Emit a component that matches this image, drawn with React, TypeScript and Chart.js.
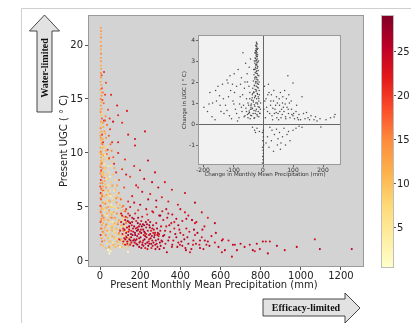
import React, { useEffect, useRef } from 'react';
import { Chart, registerables } from 'chart.js';
Chart.register(...registerables);

// ---------- data ----------
const X_TICKS = [0, 200, 400, 600, 800, 1000, 1200];
const Y_TICKS = [0, 5, 10, 15, 20];
const CB_TICKS = [5, 10, 15, 20, 25];
const INSET_X_TICKS = [-200, -100, 0, 100, 200];
const INSET_Y_TICKS = [-1, 0, 1, 2, 3, 4];
const C_MIN = 0.45;
const C_MAX = 29.2;

// [precip (mm), UGC (°C), colour value]
const columnPts = [
  [4,21.6,13],[5,21.3,14],[4,21.0,12],[5,20.7,15],[4,20.3,13],[5,19.9,14],[4,19.6,12],[5,19.2,15],[4,18.8,13],[5,18.5,14],
  [4,18.1,12],[6,17.8,13],[4,17.4,15],[5,17.0,14],[3,16.6,12],[6,16.3,13],[4,15.9,15],[5,15.6,11],[7,15.3,14],[3,15.0,16],
  [6,14.7,12],[4,14.4,14],[8,14.1,13],[3,13.8,15],[5,13.5,10],[9,13.2,18],[4,12.9,13],[6,12.6,9],[3,12.3,15],[7,12.0,12],
  [10,11.7,20],[4,11.4,14],[6,11.1,8],[12,10.8,16],[3,10.5,13],[8,10.2,10],[5,9.9,15],[11,9.6,7],[4,9.3,12],[7,9.0,17],
  [2,14.0,11],[10,13.6,8],[14,12.8,14],[2,11.9,10],[15,11.3,12],[9,10.6,6],[1,10.0,9],[16,9.8,13],[13,9.2,8]
];
const columnSpreadPts = [
  [18,14.6,17],[28,13.4,15],[12,14.9,19],[35,12.6,16],[22,12.0,13],[44,11.6,18],[15,11.0,21],[30,11.4,14],[52,10.8,17],
  [38,10.3,20],[20,13.0,22],[10,16.0,18],[14,15.6,16],[8,17.2,19],[26,11.8,12],[58,10.2,15],[66,9.6,18],[34,9.9,16],
  [16,12.4,12],[48,13.2,20]
];
const lowColumnPts = [
  [3,8.7,17],[6,8.4,20],[2,8.1,14],[9,7.8,18],[4,7.5,22],[12,7.2,15],[1,6.9,19],[7,6.6,13],[3,6.3,21],[10,6.0,16],
  [5,5.7,18],[14,5.4,14],[2,5.1,20],[8,4.8,12],[4,4.5,17],[11,4.2,22],[6,3.9,15],[2,3.6,19],[9,3.3,13],[5,3.0,18],
  [13,2.7,16],[3,2.4,21],[7,2.1,14],[10,1.8,17],[4,1.5,12],[15,8.0,10],[16,6.5,20],[18,4.0,16]
];
const yellowPts = [
  [20,10.5,9],[25,9.8,6],[30,10.2,12],[22,9.0,4],[35,9.4,8],[28,8.6,11],[40,8.8,5],[32,8.0,13],[45,8.2,7],[38,7.6,10],
  [50,7.8,4],[24,7.4,12],[42,7.0,6],[55,7.3,9],[30,6.8,14],[48,6.5,5],[60,6.9,11],[36,6.2,8],[52,6.0,3],[20,6.0,10],
  [44,5.6,12],[62,5.8,6],[28,5.4,9],[56,5.2,4],[40,5.0,13],[66,5.0,8],[24,4.7,7],[48,4.5,10],[34,4.2,5],[58,4.3,12],
  [70,4.4,6],[20,3.8,11],[42,3.7,8],[64,3.6,4],[30,3.3,13],[52,3.2,9],[74,3.4,7],[22,2.9,10],[40,2.7,5],[60,2.8,12],
  [80,2.9,8],[32,2.3,9],[50,2.1,6],[70,2.2,11],[90,2.4,7],[44,1.8,10],[64,1.7,5],[84,1.8,12],[56,1.4,8],[76,1.3,11]
];
const denseOrangePts = [
  [2,11.6,14],[5,11.2,12],[8,10.9,15],[12,10.5,11],[3,10.1,16],[15,9.9,9],[6,9.6,13],[18,9.4,10],[9,9.1,15],[22,8.9,7],
  [1,8.8,12],[13,8.6,14],[26,8.5,9],[4,8.3,16],[17,8.2,11],[30,8.0,8],[7,7.9,13],[21,7.7,15],[34,7.6,6],[11,7.4,12],
  [2,7.2,15],[25,7.1,10],[38,7.0,7],[14,6.9,13],[6,6.7,17],[29,6.6,9],[42,6.5,11],[18,6.4,8],[9,6.2,14],[33,6.1,12],
  [46,6.0,6],[22,5.9,10],[3,5.8,16],[37,5.6,8],[50,5.5,12],[13,5.4,11],[26,5.3,15],[41,5.2,7],[7,5.0,13],[54,5.0,9],
  [30,4.9,12],[17,4.8,9],[45,4.7,14],[2,4.6,15],[58,4.5,8],[35,4.4,11],[21,4.3,6],[10,4.2,14],[49,4.1,10],[62,4.0,13],
  [27,3.9,9],[40,3.8,12],[5,3.7,16],[53,3.6,7],[15,3.5,11],[32,3.4,14],[66,3.3,9],[44,3.2,6],[24,3.1,12],[8,3.0,15],
  [57,2.9,10],[36,2.8,13],[70,2.7,7],[18,2.6,11],[48,2.5,9],[28,2.4,14],[61,2.3,12],[12,2.2,9],[40,2.1,11],[74,2.0,8],
  [22,1.9,13],[52,1.8,10],[35,1.6,7],[66,1.5,12],[15,1.4,10],[45,1.3,14],[80,1.6,9],[28,1.2,11],[58,1.1,8],[90,1.4,12]
];
const orangePts = [
  [65,8.0,10],[75,7.5,7],[85,7.0,13],[70,6.5,5],[90,6.2,9],[80,5.8,15],[100,5.8,11],[95,5.3,7],[110,5.0,14],[85,4.8,6],
  [120,4.6,12],[100,4.3,9],[75,4.0,15],[115,3.9,8],[90,3.6,11],[130,3.5,16],[105,3.2,7],[80,3.0,13],[125,2.8,10],[95,2.6,15],
  [110,2.3,8],[135,2.1,12],[100,1.9,14],[120,1.6,9],[140,1.4,13],[60,9.2,9],[72,8.6,12],[55,8.8,6],[48,9.6,10],[36,10.6,7]
];
const denseMidPts = [
  [62,7.0,13],[78,6.6,10],[94,6.3,15],[70,6.1,8],[86,5.9,12],[104,5.7,17],[66,5.6,9],[82,5.4,14],[98,5.2,11],[116,5.1,16],
  [74,5.0,7],[90,4.9,13],[108,4.7,10],[126,4.6,18],[68,4.5,12],[84,4.4,15],[100,4.2,8],[118,4.1,14],[136,4.0,17],[78,3.9,10],
  [94,3.8,13],[112,3.7,9],[130,3.6,15],[72,3.5,11],[88,3.4,16],[106,3.3,12],[124,3.2,8],[142,3.1,14],[82,3.0,10],[98,2.9,13],
  [116,2.8,17],[134,2.7,11],[76,2.6,9],[92,2.5,14],[110,2.4,10],[128,2.3,16],[146,2.2,12],[86,2.1,8],[104,2.0,13],[122,1.9,11],
  [140,1.8,15],[96,1.7,9],[114,1.6,14],[132,1.5,10],[150,1.6,13],[108,1.3,11],[126,1.2,9],[60,3.1,12],[56,4.0,16],[50,6.2,11]
];
const palePts = [[40,1.0,1.5],[46,0.7,1.2],[139,0.85,1.5],[100,1.3,2],[52,0.9,1.8]];
const upperRedPts = [
  [25,15.4,20],[55,15.4,22],[85,14.4,23],[40,14.0,19],[134,13.9,22],[90,13.5,21],[25,13.0,18],[65,12.9,24],[110,12.8,21],
  [224,12.0,23],[140,11.7,22],[50,12.2,20],[174,11.3,24],[90,11.0,22],[30,16.5,19],[20,17.5,21]
];
const scatterRedPts = [
  [90,10.0,22],[174,10.7,24],[124,9.4,21],[239,9.3,25],[199,8.4,23],[274,8.2,24],[323,7.3,22],[259,7.3,25],[358,6.6,23],
  [423,6.3,24],[308,5.9,22],[473,5.4,25],[388,5.2,23],[507,4.5,24],[537,4.0,22],[572,3.5,25],[423,4.5,23],[458,3.8,26],
  [150,7.8,20],[180,7.0,23],[120,6.8,19],[210,6.4,24],[160,6.0,22],[240,5.7,25],[140,5.5,21],[280,5.0,23],[200,5.2,26],
  [330,4.8,24],[260,4.6,22],[360,4.3,25],[300,4.2,27],[230,4.8,24],[110,8.5,20],[70,9.0,22],[95,7.5,18],[130,8.0,23],
  [190,6.8,21],[220,7.6,24],[170,8.8,22],[250,6.2,23],[290,6.8,25],[340,5.5,22],[400,4.8,24],[440,4.2,23],[380,3.9,25],
  [480,3.6,24],[520,3.2,23],[60,11.0,21],[45,9.5,19],[80,8.2,20]
];
const redCorePts = [
  [110,4.2,23],[125,3.8,26],[140,4.4,21],[150,3.5,27],[160,4.0,24],[170,3.2,26],[180,3.7,22],[190,2.9,27],[200,3.4,25],
  [210,4.1,23],[220,2.7,28],[230,3.1,24],[240,3.8,22],[250,2.5,26],[260,3.0,24],[270,2.2,27],[280,3.5,23],[290,2.0,25],
  [300,2.8,24],[310,1.8,26],[115,3.0,21],[130,2.6,24],[145,2.9,23],[155,2.2,26],[165,2.7,25],[175,2.4,28],[185,3.1,24],
  [195,2.1,26],[205,2.6,27],[215,1.9,24],[225,2.3,26],[235,1.7,25],[245,2.0,23],[255,1.6,27],[265,2.6,22],[275,1.5,25],
  [285,2.4,24],[120,2.1,22],[135,1.8,25],[150,1.5,23],[165,1.9,27],[180,1.6,24],[195,1.3,26],[210,1.5,25],[225,1.2,23],
  [240,1.4,27],[160,3.6,25],[175,4.4,22],[190,4.0,26],[205,3.7,23],[220,3.3,26],[235,4.3,21],[250,3.6,25],[145,3.2,27],
  [170,2.0,22],[185,2.3,25],[200,1.8,24],[215,2.9,26],[230,2.5,23],[245,3.3,27],[260,1.9,24],[140,2.4,26],[155,2.8,22],
  [125,1.5,24],[100,2.8,22],[105,3.6,24],[95,2.0,21],[130,4.8,20],[150,5.0,23],[170,5.4,24],[190,4.7,21],[320,2.4,25],
  [330,3.2,23],[340,1.9,26],[350,2.7,24],[360,1.5,25],[370,3.0,22],[380,2.2,26],[390,1.7,24],[400,2.6,23],[410,1.4,25],
  [420,2.0,27],[430,3.0,24],[440,1.6,26],[315,3.8,24],[335,4.0,25],[355,3.5,23],[295,4.2,26],[265,4.5,24]
];
const denseRedPts = [
  [105,4.4,24],[118,3.4,26],[128,4.1,22],[138,3.7,27],[148,4.2,25],[158,3.3,23],[168,3.9,26],[178,3.0,24],[188,3.5,27],[198,2.7,25],
  [208,3.2,28],[218,2.4,23],[228,3.6,26],[238,2.8,24],[248,3.1,27],[258,2.3,25],[268,2.9,23],[278,1.9,26],[288,2.6,24],[298,1.7,27],
  [112,2.5,23],[122,2.9,25],[132,2.2,27],[142,2.7,24],[152,1.9,26],[162,2.4,28],[172,1.7,25],[182,2.0,27],[192,2.5,23],[202,2.2,26],
  [212,1.7,24],[222,2.0,28],[232,2.2,25],[242,1.8,23],[252,2.1,26],[262,1.4,24],[272,2.4,27],[282,1.6,25],[292,2.3,23],[302,1.4,26],
  [116,1.8,24],[126,2.0,26],[136,1.6,23],[146,2.0,27],[156,1.7,24],[166,1.4,26],[176,1.9,25],[186,1.5,27],[196,1.7,24],[206,1.2,26],
  [216,1.4,25],[226,1.6,27],[236,1.1,24],[246,1.6,26],[256,1.2,23],[266,1.7,25],[276,1.1,27],[286,1.3,24],[296,1.1,26],[306,1.9,25],
  [134,3.1,25],[144,3.6,23],[154,2.5,27],[164,3.0,24],[174,2.6,26],[184,2.8,28],[194,3.2,25],[204,2.9,23],[214,3.4,26],[224,2.6,24],
  [234,3.4,27],[244,2.4,25],[254,2.8,23],[264,3.3,26],[274,2.6,24],[284,3.0,27],[294,2.5,25],[304,3.2,23],[314,2.3,26],[324,2.8,24]
];
const midRedPts = [
  [318,1.2,25],[326,1.6,23],[345,2.2,26],[365,1.9,24],[375,2.5,27],[385,1.3,25],[395,2.9,23],[405,1.8,26],[415,2.4,24],
  [425,1.2,25],[435,2.2,26],[445,2.7,23],[455,1.1,25],[465,1.9,24],[485,2.6,26],[495,1.5,23],[510,2.9,25],[515,1.1,24],
  [545,1.4,26],[555,2.3,24],[590,1.3,25],[640,1.9,23],[700,1.6,26],[720,1.3,24],[345,3.3,25],[370,3.6,23],[390,3.3,26],
  [410,3.7,24],[430,3.9,25],[310,4.6,23],[340,4.4,24],[280,5.6,26]
];
const tailPts = [
  [448,0.8,24],[458,3.8,25],[463,1.5,23],[468,2.9,26],[473,2.4,24],[473,3.5,22],[478,1.6,25],[498,1.9,24],[498,1.2,26],
  [507,2.2,23],[522,1.9,25],[530,1.5,24],[537,1.8,26],[572,1.7,23],[577,2.6,25],[607,0.8,24],[607,1.9,26],[612,2.0,23],
  [622,1.0,25],[657,0.4,24],[662,1.5,26],[672,1.5,23],[682,1.0,25],[746,1.5,24],[761,1.0,26],[771,0.9,23],[781,1.6,25],
  [796,1.1,24],[811,1.8,26],[826,1.8,23],[836,0.7,25],[846,1.8,24],[881,1.4,26],[920,1.0,24],[980,1.3,25],[1070,2.0,23],
  [1095,1.1,26],[1254,1.1,25],[398,1.5,24],[428,1.0,25],[358,1.3,23],[333,0.8,26]
];

// inset: [change in precip (mm), change in UGC (°C)]
const insetColumn = [
  [-22,3.9],[-20,3.8],[-24,3.75],[-21,3.7],[-23,3.6],[-19,3.55],[-25,3.5],[-22,3.45],[-20,3.4],[-24,3.35],[-18,3.3],
  [-23,3.25],[-21,3.2],[-26,3.15],[-19,3.1],[-22,3.05],[-24,3.0],[-17,2.95],[-27,2.9],[-21,2.85],[-23,2.8],[-18,2.75],
  [-25,2.7],[-20,2.65],[-28,2.6],[-16,2.55],[-22,2.5],[-26,2.45],[-19,2.4],[-30,2.35],[-14,2.3],[-24,2.25],[-21,2.2],
  [-27,2.15],[-17,2.1],[-32,2.05],[-20,2.0],[-25,1.95],[-15,1.9],[-29,1.85],[-22,1.8],[-18,1.75],[-34,1.7],[-26,1.65],
  [-13,1.6],[-23,1.55],[-30,1.5],[-19,1.45],[-36,1.4],[-25,1.35],[-16,1.3],[-28,1.25],[-21,1.2],[-38,1.15],[-14,1.1],
  [-32,1.05],[-24,1.0],[-18,0.95],[-40,0.9],[-27,0.85],[-12,0.8],[-35,0.75],[-22,0.7],[-30,0.65],[-16,0.6],[-45,0.55],
  [-26,0.5],[-20,0.45],[-38,0.4],[-14,0.35],[-50,0.3],[-28,0.3],[-33,0.5],[-42,0.7],[-10,0.5],[-48,0.9],[-55,0.6],
  [-60,0.4],[-8,1.0],[-12,1.4],[-44,1.2],[-31,2.6],[-15,3.0],[-27,3.4]
];
const insetColumn2 = [
  [-21,3.85],[-23,3.7],[-20,3.62],[-22,3.52],[-24,3.42],[-21,3.32],[-19,3.22],[-25,3.12],[-22,3.02],[-20,2.92],[-24,2.82],
  [-18,2.72],[-26,2.62],[-21,2.52],[-23,2.42],[-17,2.32],[-27,2.22],[-20,2.12],[-24,2.02],[-19,1.92],[-28,1.82],[-16,1.72],
  [-22,1.62],[-31,1.52],[-18,1.42],[-26,1.32],[-14,1.22],[-33,1.12],[-20,1.02],[-29,0.92],[-16,0.82],[-37,0.72],[-24,0.62],
  [-11,0.52],[-41,0.42],[-19,0.38],[-30,0.28],[-52,0.45],[-46,0.62],[-39,0.95],[-36,1.25],[-34,1.45],[-9,0.7],[-13,2.0],
  [-29,3.0],[-17,3.6]
];
const insetLeft = [
  [-197,0.8],[-177,1.5],[-170,0.35],[-155,1.1],[-145,1.35],[-140,0.6],[-135,1.9],[-125,0.9],[-120,2.1],[-117,1.95],
  [-112,0.4],[-108,1.6],[-100,1.1],[-96,2.4],[-92,0.7],[-88,1.8],[-83,2.6],[-80,0.3],[-76,1.3],[-72,2.2],[-67,3.4],
  [-65,0.9],[-62,1.7],[-58,2.9],[-55,1.2],[-52,2.0],[-48,0.5],[-46,2.7],[-44,1.5],[-42,3.1],[-40,0.8],[-160,0.2],
  [-130,0.5],[-105,0.25],[-85,0.15],[-70,0.6],[-150,1.8],[-115,1.3],[-95,1.5],[-78,0.95],[-63,0.35],[-57,0.75],
  [-50,1.0],[-185,0.6],[-168,1.0],[-88,0.5],[-75,1.9],[-68,1.4],[-53,2.4],[-47,1.8],[-43,0.25],[-60,2.0],[-72,0.8],
  [-97,0.95],[-102,1.9],[-120,0.65],[-132,1.2],[-110,2.3],[-143,0.9],[-158,1.6],[-180,0.95]
];
const insetRight = [
  [5,1.8],[10,1.2],[15,0.6],[20,1.5],[25,0.9],[30,0.4],[35,1.1],[40,0.7],[45,1.3],[50,0.5],[55,0.9],[60,0.3],[65,1.0],
  [70,0.6],[75,0.35],[80,0.8],[83,2.3],[85,0.5],[90,0.3],[95,0.7],[100,1.95],[100,0.4],[105,0.25],[110,0.6],[115,0.3],
  [120,0.45],[125,0.2],[130,1.3],[135,0.5],[140,0.25],[150,0.3],[160,0.4],[170,0.2],[190,0.25],[210,0.2],[225,0.3],
  [237,0.33],[240,0.45],[8,0.3],[12,0.8],[18,1.9],[28,1.4],[38,0.5],[48,1.0],[58,1.5],[68,0.8],[78,1.2],[88,1.0],
  [52,0.2],[32,0.2],[62,0.7],[72,1.6],[42,0.9],[22,0.5],[3,0.7],[6,1.1],[33,0.75],[44,0.55],[54,1.2],[64,0.45],
  [74,0.95],[84,0.7],[94,1.1],[102,0.5],[112,0.9],[118,0.2],[26,1.1],[16,1.4],[36,1.6],[46,0.3],[56,0.6],[66,1.3],
  [76,0.25],[86,1.4],[96,0.45],[145,0.55],[155,0.2],[175,0.35],[180,0.15]
];
const insetNegative = [
  [-35,-0.15],[-28,-0.3],[-20,-0.2],[-12,-0.35],[-25,-0.4],[23,-0.15],[30,-0.3],[38,-0.5],[45,-0.25],[50,-0.7],
  [55,-0.4],[60,-0.9],[65,-0.6],[70,-0.2],[75,-1.0],[80,-0.5],[85,-0.35],[90,-0.8],[100,-0.3],[110,-0.2],[120,-0.1],
  [130,-0.15],[193,-0.14],[15,-0.6],[10,-0.9],[20,-1.1],[35,-1.3],[48,-1.0],[28,-0.8],[58,-1.2],
  [-2,-0.4],[1,-0.6],[-1,-0.8],[2,-1.0],[-2,-1.1],[0,-1.25],[1,-1.4],[-1,-1.55],[0,-1.7],[-2,-1.85],[1,-0.3]
];

// ---------- helpers ----------
const YLORRD = ['#ffffcc', '#ffeda0', '#fed976', '#feb24c', '#fd8d3c', '#fc4e2a', '#e31a1c', '#bd0026', '#800026'];
function hexToRgb(h: string) {
  return [parseInt(h.slice(1, 3), 16), parseInt(h.slice(3, 5), 16), parseInt(h.slice(5, 7), 16)];
}
function cmap(v: number) {
  let t = (v - C_MIN) / (C_MAX - C_MIN);
  t = Math.max(0, Math.min(1, t));
  const p = t * (YLORRD.length - 1);
  const i = Math.min(YLORRD.length - 2, Math.floor(p));
  const f = p - i;
  const a = hexToRgb(YLORRD[i]);
  const b = hexToRgb(YLORRD[i + 1]);
  const c = a.map((x, k) => Math.round(x + (b[k] - x) * f));
  return `rgb(${c[0]},${c[1]},${c[2]})`;
}
const FONT = 'DejaVu Sans';
const SERIF = 'Liberation Serif';
const plainTick = (v: any) => String(v);

export default function App() {
  const mainRef = useRef<HTMLCanvasElement>(null);
  const insetRef = useRef<HTMLCanvasElement>(null);
  const cbRef = useRef<HTMLCanvasElement>(null);

  useEffect(() => {
    const mainPts = [
      ...columnPts, ...lowColumnPts, ...yellowPts, ...denseOrangePts, ...orangePts, ...denseMidPts, ...palePts,
      ...columnSpreadPts, ...upperRedPts, ...scatterRedPts, ...redCorePts, ...denseRedPts, ...midRedPts, ...tailPts
    ];
    const mainPlugin = {
      id: 'mainDeco',
      beforeDraw(chart: any) {
        const { ctx, chartArea: a } = chart;
        ctx.save();
        ctx.strokeStyle = '#cfcfcf';
        ctx.lineWidth = 1;
        ctx.beginPath();
        ctx.moveTo(21.5, 323);
        ctx.lineTo(21.5, 8.5);
        ctx.lineTo(411, 8.5);
        ctx.stroke();
        ctx.fillStyle = '#d3d3d3';
        ctx.fillRect(a.left, a.top, a.right - a.left, a.bottom - a.top);
        ctx.restore();
      },
      afterDraw(chart: any) {
        const { ctx, chartArea: a } = chart;
        ctx.save();
        ctx.strokeStyle = '#9a9a9a';
        ctx.lineWidth = 1;
        ctx.strokeRect(a.left + 0.5, a.top + 0.5, a.right - a.left - 1, a.bottom - a.top - 1);
        ctx.fillStyle = '#222';
        ctx.font = `10px "${FONT}"`;
        ctx.textAlign = 'center';
        ctx.textBaseline = 'middle';
        ctx.fillText('Present Monthly Mean Precipitation (mm)', (a.left + a.right) / 2 - 12, 285);
        ctx.save();
        ctx.translate(64, (a.top + a.bottom) / 2);
        ctx.rotate(-Math.PI / 2);
        ctx.fillText('Present UGC ( ° C)', 0, 0);
        ctx.restore();
        // arrows
        ctx.fillStyle = '#e2e2e2';
        ctx.strokeStyle = '#333';
        ctx.lineWidth = 0.9;
        ctx.beginPath();
        ctx.moveTo(44.5, 15);
        ctx.lineTo(59.5, 31);
        ctx.lineTo(52, 31);
        ctx.lineTo(52, 112);
        ctx.lineTo(37, 112);
        ctx.lineTo(37, 31);
        ctx.lineTo(29.5, 31);
        ctx.closePath();
        ctx.fill();
        ctx.stroke();
        ctx.beginPath();
        ctx.moveTo(263, 299);
        ctx.lineTo(345, 299);
        ctx.lineTo(345, 293);
        ctx.lineTo(360, 308);
        ctx.lineTo(345, 323);
        ctx.lineTo(345, 316);
        ctx.lineTo(263, 316);
        ctx.closePath();
        ctx.fill();
        ctx.stroke();
        ctx.fillStyle = '#111';
        ctx.font = `bold 10px "${SERIF}"`;
        ctx.fillText('Efficacy-limited', 306, 308);
        ctx.save();
        ctx.translate(45, 68);
        ctx.rotate(-Math.PI / 2);
        ctx.fillText('Water-limited', 0, 0);
        ctx.restore();
        ctx.restore();
      }
    };
    const mainChart = new Chart(mainRef.current as any, {
      type: 'scatter',
      data: {
        datasets: [{
          data: mainPts.map(p => ({ x: p[0], y: p[1] })),
          pointBackgroundColor: mainPts.map(p => cmap(p[2])),
          pointBorderWidth: 0,
          pointRadius: 1.05,
          pointHoverRadius: 1.05
        }]
      },
      options: {
        responsive: false,
        animation: false,
        events: [],
        layout: { padding: { left: 0, top: 15, right: 47, bottom: 36 } },
        plugins: { legend: { display: false }, tooltip: { enabled: false } },
        scales: {
          x: {
            type: 'linear', min: -60, max: 1315,
            afterBuildTicks: (s: any) => { s.ticks = X_TICKS.map(v => ({ value: v })); },
            afterFit: (s: any) => { s.height = 20; },
            grid: { drawOnChartArea: false, tickLength: 3, tickColor: '#555' },
            border: { display: false },
            ticks: { font: { family: FONT, size: 10 }, color: '#222', padding: 0, maxRotation: 0, autoSkip: false, callback: plainTick }
          },
          y: {
            type: 'linear', min: -0.56, max: 22.78,
            afterBuildTicks: (s: any) => { s.ticks = Y_TICKS.map(v => ({ value: v })); },
            afterFit: (s: any) => { s.width = 88; },
            grid: { drawOnChartArea: false, tickLength: 3, tickColor: '#555' },
            border: { display: false },
            ticks: { font: { family: FONT, size: 10 }, color: '#222', padding: 2, autoSkip: false, callback: plainTick }
          }
        }
      },
      plugins: [mainPlugin]
    } as any);

    const insetPts = [...insetLeft, ...insetRight, ...insetNegative, ...insetColumn, ...insetColumn2];
    const insetPlugin = {
      id: 'insetDeco',
      beforeDraw(chart: any) {
        const { ctx, chartArea: a } = chart;
        ctx.save();
        ctx.fillStyle = '#f2f2f2';
        ctx.fillRect(a.left, a.top, a.right - a.left, a.bottom - a.top);
        ctx.restore();
      },
      beforeDatasetsDraw(chart: any) {
        const { ctx, chartArea: a, scales } = chart;
        const x0 = Math.round(scales.x.getPixelForValue(0)) + 0.5;
        const y0 = Math.round(scales.y.getPixelForValue(0)) + 0.5;
        ctx.save();
        ctx.strokeStyle = '#666';
        ctx.lineWidth = 1;
        ctx.beginPath();
        ctx.moveTo(x0, a.top);
        ctx.lineTo(x0, a.bottom);
        ctx.moveTo(a.left, y0);
        ctx.lineTo(a.right, y0);
        ctx.stroke();
        ctx.restore();
      },
      afterDraw(chart: any) {
        const { ctx, chartArea: a } = chart;
        ctx.save();
        ctx.strokeStyle = '#9a9a9a';
        ctx.lineWidth = 1;
        ctx.strokeRect(a.left + 0.5, a.top + 0.5, a.right - a.left - 1, a.bottom - a.top - 1);
        ctx.fillStyle = '#333';
        ctx.font = `5.5px "${FONT}"`;
        ctx.textAlign = 'center';
        ctx.textBaseline = 'middle';
        ctx.fillText('Change in Monthly Mean Precipitation (mm)', 95, 147);
        ctx.save();
        ctx.translate(15, 72);
        ctx.rotate(-Math.PI / 2);
        ctx.fillText('Change in UGC ( ° C)', 0, 0);
        ctx.restore();
        ctx.restore();
      }
    };
    const insetChart = new Chart(insetRef.current as any, {
      type: 'scatter',
      data: {
        datasets: [{
          data: insetPts.map(p => ({ x: p[0], y: p[1] })),
          pointBackgroundColor: '#4a4a4a',
          pointBorderWidth: 0,
          pointRadius: 0.75,
          pointHoverRadius: 0.75
        }]
      },
      options: {
        responsive: false,
        animation: false,
        events: [],
        layout: { padding: { left: 0, top: 7, right: 9, bottom: 8 } },
        plugins: { legend: { display: false }, tooltip: { enabled: false } },
        scales: {
          x: {
            type: 'linear', min: -216.7, max: 260,
            afterBuildTicks: (s: any) => { s.ticks = INSET_X_TICKS.map(v => ({ value: v })); },
            afterFit: (s: any) => { s.height = 10; },
            grid: { drawOnChartArea: false, tickLength: 2, tickColor: '#666' },
            border: { display: false },
            ticks: { font: { family: FONT, size: 6 }, color: '#333', padding: 0, maxRotation: 0, autoSkip: false, callback: plainTick }
          },
          y: {
            type: 'linear', min: -1.95, max: 4.24,
            afterBuildTicks: (s: any) => { s.ticks = INSET_Y_TICKS.map(v => ({ value: v })); },
            afterFit: (s: any) => { s.width = 28; },
            grid: { drawOnChartArea: false, tickLength: 2, tickColor: '#666' },
            border: { display: false },
            ticks: { font: { family: FONT, size: 6 }, color: '#333', padding: 1, autoSkip: false, callback: plainTick }
          }
        }
      },
      plugins: [insetPlugin]
    } as any);

    const cbPlugin = {
      id: 'cbDeco',
      beforeDraw(chart: any) {
        const { ctx, chartArea: a, scales } = chart;
        const yTop = scales.y.getPixelForValue(C_MAX);
        const yBot = scales.y.getPixelForValue(C_MIN);
        const g = ctx.createLinearGradient(0, yBot, 0, yTop);
        YLORRD.forEach((c, i) => g.addColorStop(i / (YLORRD.length - 1), c));
        ctx.save();
        ctx.fillStyle = g;
        ctx.fillRect(a.left, a.top, a.right - a.left, a.bottom - a.top);
        ctx.strokeStyle = '#bdbdbd';
        ctx.lineWidth = 1;
        ctx.strokeRect(a.left + 0.5, a.top + 0.5, a.right - a.left - 1, a.bottom - a.top - 1);
        ctx.restore();
      }
    };
    const cbChart = new Chart(cbRef.current as any, {
      type: 'scatter',
      data: { datasets: [{ data: [] }] },
      options: {
        responsive: false,
        animation: false,
        events: [],
        layout: { padding: { left: 11, top: 15, right: 0, bottom: 55 } },
        plugins: { legend: { display: false }, tooltip: { enabled: false } },
        scales: {
          x: { type: 'linear', min: 0, max: 1, display: false },
          y: {
            type: 'linear', position: 'right', min: C_MIN, max: C_MAX,
            afterBuildTicks: (s: any) => { s.ticks = CB_TICKS.map(v => ({ value: v })); },
            afterFit: (s: any) => { s.width = 17; },
            grid: { drawOnChartArea: false, tickLength: 2, tickColor: '#555' },
            border: { display: false },
            ticks: { font: { family: FONT, size: 10 }, color: '#222', padding: 1, autoSkip: false, callback: plainTick }
          }
        }
      },
      plugins: [cbPlugin]
    } as any);

    return () => {
      mainChart.destroy();
      insetChart.destroy();
      cbChart.destroy();
    };
  }, []);

  return (
    <div style={{ position: 'fixed', left: 0, top: 0, width: 411, height: 323, background: '#fff' }}>
      <canvas ref={mainRef} width={411} height={323}
        style={{ position: 'absolute', left: 0, top: 0, width: 411, height: 323 }} />
      <canvas ref={insetRef} width={180} height={155}
        style={{ position: 'absolute', left: 170, top: 28, width: 180, height: 155 }} />
      <canvas ref={cbRef} width={41} height={323}
        style={{ position: 'absolute', left: 370, top: 0, width: 41, height: 323 }} />
    </div>
  );
}
